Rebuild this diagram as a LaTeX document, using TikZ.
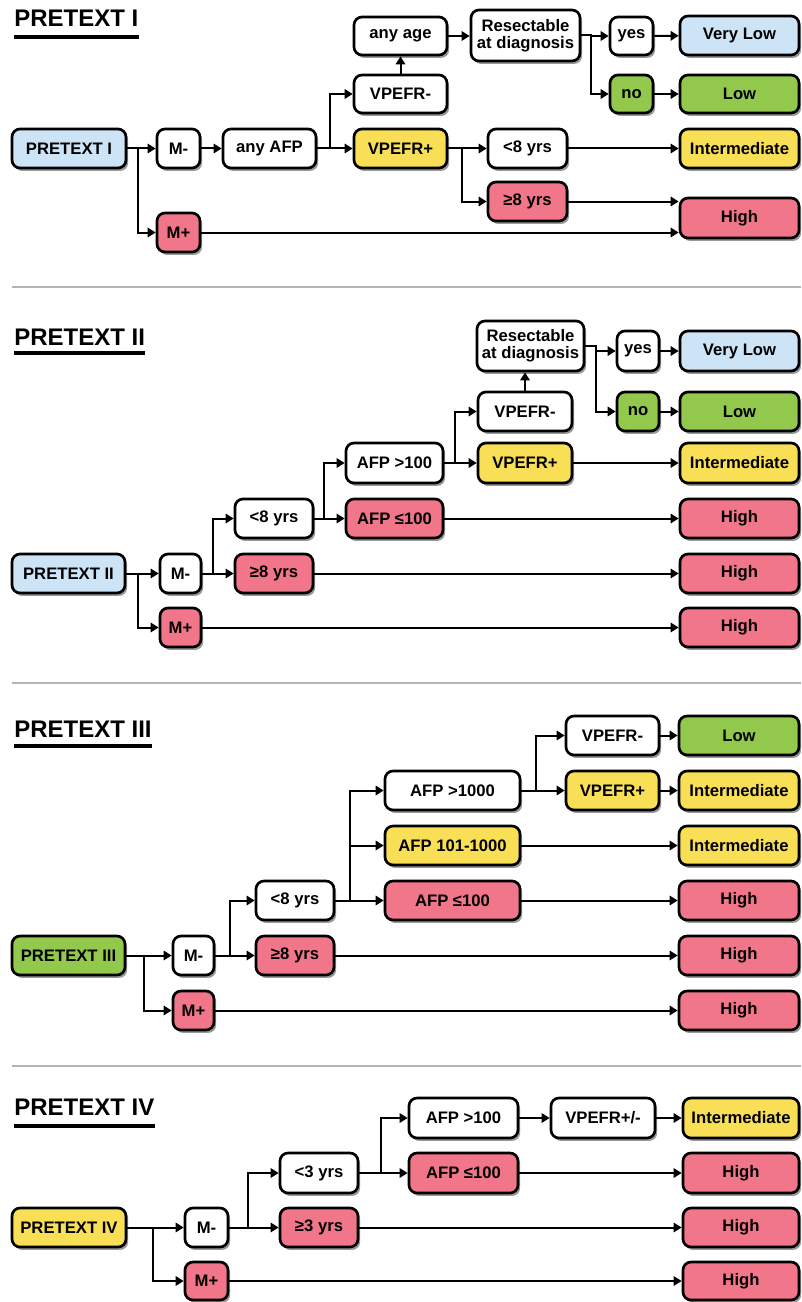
\documentclass[tikz,border=0pt]{standalone}
\usepackage{fontspec}
\setmainfont{Liberation Sans}
\usetikzlibrary{arrows.meta,shadows,calc}
\definecolor{cblue}{HTML}{CDE3F6}
\definecolor{cgreen}{HTML}{92C84C}
\definecolor{cyellow}{HTML}{F9DF55}
\definecolor{cred}{HTML}{F27689}
\definecolor{csep}{HTML}{B4B4B4}
\tikzset{
  bx/.style={draw=black, line width=2pt, rounded corners=6pt, inner sep=0pt,
    align=center, font=\fontsize{12.5}{12.8}\selectfont\bfseries,
    drop shadow={shadow xshift=1.6pt, shadow yshift=-2.2pt, fill=black!40, opacity=1}},
  arr/.style={line width=1.5pt, -{Triangle[length=6pt,width=7pt]}},
  ttl/.style={anchor=base west, inner sep=0pt, font=\fontsize{18}{18}\selectfont\bfseries},
  uline/.style={line width=2.3pt},
  sep/.style={draw=csep, line width=2pt}
}
\newcommand\bx[7]{\node[bx,fill=#6,minimum width={(#4-#2)*0.75pt},minimum height={(#5-#3)*0.75pt}] (#1) at ({(#2+#4)/2},{(#3+#5)/2}) {#7};}
\newcommand\ttlnode[4]{\node[ttl] (#1) at (14,#2) {#4};
  \draw[uline] (14,#3) -- (#1.base east |- 0,#3);}
\begin{document}
\begin{tikzpicture}[x=0.75pt,y=-0.75pt]
\useasboundingbox (0,0) rectangle (801,1302);
\fill[white] (0,0) rectangle (801,1302);

% ---------------- PRETEXT I ----------------
\ttlnode{t1}{27}{37}{PRETEXT I}
\bx{p1}{12}{129}{126}{168}{cblue}{PRETEXT I}
\bx{m1m}{157}{129}{200}{168}{white}{M-}
\bx{afp1}{223}{129}{316}{168}{white}{any AFP}
\bx{v1m}{354}{75}{447}{113}{white}{VPEFR-}
\bx{v1p}{354}{129}{447}{168}{cyellow}{VPEFR+}
\bx{age1}{354}{17}{447}{55}{white}{any age}
\bx{res1}{471}{10}{580}{61}{white}{Resectable\\at diagnosis}
\bx{yes1}{610}{17}{653}{55}{white}{yes}
\bx{no1}{610}{75}{653}{113}{cgreen}{no}
\bx{vl1}{680}{16}{799}{55}{cblue}{Very Low}
\bx{lo1}{680}{75}{799}{113}{cgreen}{Low}
\bx{y81}{488}{129}{567}{168}{white}{<8 yrs}
\bx{o81}{488}{182}{567}{221}{cred}{≥8 yrs}
\bx{int1}{680}{129}{799}{168}{cyellow}{Intermediate}
\bx{hi1}{680}{198}{799}{238}{cred}{High}
\bx{m1p}{157}{213}{200}{252}{cred}{M+}

\draw[arr] (p1) -- (m1m);
\draw[arr] (p1.east) -- ++(11,0) |- (m1p);
\draw[arr] (m1m) -- (afp1);
\draw[arr] (afp1.east) -- ++(13,0) |- (v1m);
\draw[arr] (afp1) -- (v1p);
\draw[arr] (v1m.north) -- (age1.south);
\draw[arr] (age1.east) -- (age1.east -| res1.west);
\draw[arr] (res1.east) -- ++(10,0) |- (yes1);
\draw[arr] (res1.east) -- ++(10,0) |- (no1);
\draw[arr] (yes1) -- (vl1);
\draw[arr] (no1) -- (lo1);
\draw[arr] (v1p) -- (y81);
\draw[arr] (v1p.east) -- ++(14,0) |- (o81);
\draw[arr] (y81) -- (int1);
\draw[arr] (o81.east) -- (o81.east -| hi1.west);
\draw[arr] (m1p.east) -- (m1p.east -| hi1.west);

\draw[sep] (12,287) -- (801,287);

% ---------------- PRETEXT II ----------------
\ttlnode{t2}{345}{353}{PRETEXT II}
\bx{res2}{477}{321}{584}{371}{white}{Resectable\\at diagnosis}
\bx{yes2}{617}{331}{659}{371}{white}{yes}
\bx{no2}{617}{392}{659}{431}{cgreen}{no}
\bx{vl2}{680}{331}{799}{371}{cblue}{Very Low}
\bx{lo2}{680}{392}{799}{431}{cgreen}{Low}
\bx{v2m}{478}{392}{572}{431}{white}{VPEFR-}
\bx{v2p}{478}{443}{572}{483}{cyellow}{VPEFR+}
\bx{int2}{680}{443}{799}{483}{cyellow}{Intermediate}
\bx{a2g}{346}{443}{443}{483}{white}{AFP >100}
\bx{a2l}{346}{499}{443}{538}{cred}{AFP ≤100}
\bx{hi2a}{680}{499}{799}{538}{cred}{High}
\bx{y82}{235}{499}{313}{538}{white}{<8 yrs}
\bx{o82}{235}{554}{313}{593}{cred}{≥8 yrs}
\bx{hi2b}{680}{554}{799}{593}{cred}{High}
\bx{p2}{12}{554}{125}{593}{cblue}{PRETEXT II}
\bx{m2m}{160}{554}{201}{593}{white}{M-}
\bx{m2p}{160}{608}{201}{647}{cred}{M+}
\bx{hi2c}{680}{608}{799}{647}{cred}{High}

\draw[arr] (p2) -- (m2m);
\draw[arr] (p2.east) -- ++(12,0) |- (m2p);
\draw[arr] (m2m) -- (o82);
\draw[arr] (m2m.east) -- ++(11,0) |- (y82);
\draw[arr] (y82) -- (a2l);
\draw[arr] (y82.east) -- ++(10,0) |- (a2g);
\draw[arr] (a2g) -- (v2p);
\draw[arr] (a2g.east) -- ++(11,0) |- (v2m);
\draw[arr] (v2m.north) -- (v2m.north |- res2.south);
\draw[arr] (res2.east) -- ++(11,0) |- (yes2);
\draw[arr] (res2.east) -- ++(11,0) |- (no2);
\draw[arr] (yes2) -- (vl2);
\draw[arr] (no2) -- (lo2);
\draw[arr] (v2p) -- (int2);
\draw[arr] (a2l) -- (hi2a);
\draw[arr] (o82) -- (hi2b);
\draw[arr] (m2p) -- (hi2c);

\draw[sep] (12,683) -- (801,683);

% ---------------- PRETEXT III ----------------
\ttlnode{t3}{737}{746}{PRETEXT III}
\bx{v3m}{566}{716}{659}{755}{white}{VPEFR-}
\bx{lo3}{679}{716}{799}{755}{cgreen}{Low}
\bx{a3g}{385}{771}{520}{810}{white}{AFP >1000}
\bx{v3p}{566}{771}{659}{810}{cyellow}{VPEFR+}
\bx{int3a}{679}{771}{799}{810}{cyellow}{Intermediate}
\bx{a3m}{385}{826}{520}{865}{cyellow}{AFP 101-1000}
\bx{int3b}{679}{826}{799}{865}{cyellow}{Intermediate}
\bx{a3l}{385}{881}{520}{920}{cred}{AFP ≤100}
\bx{hi3a}{679}{881}{799}{920}{cred}{High}
\bx{y83}{256}{881}{334}{920}{white}{<8 yrs}
\bx{o83}{256}{936}{334}{975}{cred}{≥8 yrs}
\bx{hi3b}{679}{936}{799}{975}{cred}{High}
\bx{p3}{12}{936}{125}{975}{cgreen}{PRETEXT III}
\bx{m3m}{173}{936}{214}{975}{white}{M-}
\bx{m3p}{173}{991}{214}{1030}{cred}{M+}
\bx{hi3c}{679}{991}{799}{1030}{cred}{High}

\draw[arr] (p3) -- (m3m);
\draw[arr] (p3.east) -- ++(18,0) |- (m3p);
\draw[arr] (m3m) -- (o83);
\draw[arr] (m3m.east) -- ++(15,0) |- (y83);
\draw[arr] (y83) -- (a3l);
\draw[arr] (y83.east) -- ++(15,0) |- (a3m);
\draw[arr] (y83.east) -- ++(15,0) |- (a3g);
\draw[arr] (a3g) -- (v3p);
\draw[arr] (a3g.east) -- ++(15,0) |- (v3m);
\draw[arr] (v3m) -- (lo3);
\draw[arr] (v3p) -- (int3a);
\draw[arr] (a3m) -- (int3b);
\draw[arr] (a3l) -- (hi3a);
\draw[arr] (o83) -- (hi3b);
\draw[arr] (m3p) -- (hi3c);

\draw[sep] (12,1066) -- (801,1066);

% ---------------- PRETEXT IV ----------------
\ttlnode{t4}{1115}{1126}{PRETEXT IV}
\bx{a4g}{409}{1098}{518}{1138}{white}{AFP >100}
\bx{v4}{551}{1098}{655}{1138}{white}{VPEFR+/-}
\bx{int4}{683}{1098}{799}{1138}{cyellow}{Intermediate}
\bx{a4l}{409}{1153}{518}{1193}{cred}{AFP ≤100}
\bx{hi4a}{683}{1153}{799}{1193}{cred}{High}
\bx{y34}{280}{1153}{358}{1193}{white}{<3 yrs}
\bx{o34}{280}{1208}{358}{1247}{cred}{≥3 yrs}
\bx{hi4b}{683}{1208}{799}{1247}{cred}{High}
\bx{p4}{12}{1208}{126}{1247}{cyellow}{PRETEXT IV}
\bx{m4m}{185}{1208}{228}{1247}{white}{M-}
\bx{m4p}{185}{1262}{228}{1300}{cred}{M+}
\bx{hi4c}{683}{1262}{799}{1300}{cred}{High}

\draw[arr] (p4) -- (m4m);
\draw[arr] (p4.east) -- ++(26,0) |- (m4p);
\draw[arr] (m4m) -- (o34);
\draw[arr] (m4m.east) -- ++(19,0) |- (y34);
\draw[arr] (y34) -- (a4l);
\draw[arr] (y34.east) -- ++(22,0) |- (a4g);
\draw[arr] (a4g) -- (v4);
\draw[arr] (v4) -- (int4);
\draw[arr] (a4l) -- (hi4a);
\draw[arr] (o34) -- (hi4b);
\draw[arr] (m4p) -- (hi4c);
\end{tikzpicture}
\end{document}
